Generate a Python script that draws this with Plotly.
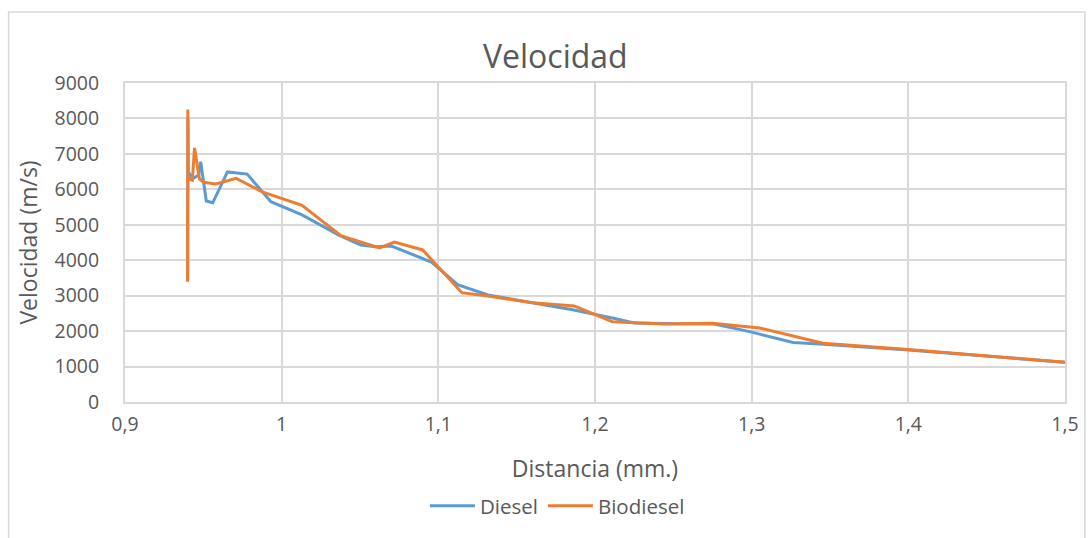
import plotly.graph_objects as go

diesel_x = [0.9400, 0.9402, 0.9404, 0.9430, 0.9470, 0.9483, 0.9519, 0.9560, 0.9654, 0.9780,
            0.9931, 1.0130, 1.0365, 1.0505, 1.0600, 1.0700, 1.0956, 1.1127, 1.1317, 1.1600,
            1.1857, 1.2111, 1.2250, 1.2500, 1.2760, 1.2987, 1.3265, 1.3460, 1.4000, 1.5000]
diesel_y = [3400, 8000, 6500, 6300, 6400, 6780, 5670, 5620, 6490, 6430,
            5650, 5280, 4710, 4430, 4380, 4400, 3950, 3300, 3020, 2800,
            2600, 2370, 2230, 2210, 2200, 1985, 1680, 1630, 1470, 1120]

bio_x = [0.9400, 0.9401, 0.9402, 0.9430, 0.9444, 0.9475, 0.9500, 0.9580, 0.9710, 0.9876,
         0.9980, 1.0130, 1.0378, 1.0625, 1.0720, 1.0900, 1.1150, 1.1317, 1.1600, 1.1867,
         1.2111, 1.2448, 1.2750, 1.3050, 1.3455, 1.4000, 1.5000]
bio_y = [3400, 8250, 6300, 6260, 7170, 6300, 6200, 6150, 6310, 5930,
         5780, 5550, 4690, 4345, 4510, 4290, 3085, 2990, 2800, 2710,
         2265, 2200, 2220, 2090, 1660, 1480, 1120]

x_ticks = [0.9, 1.0, 1.1, 1.2, 1.3, 1.4, 1.5]
x_tick_text = ["0,9", "1", "1,1", "1,2", "1,3", "1,4", "1,5"]
y_ticks = [0, 1000, 2000, 3000, 4000, 5000, 6000, 7000, 8000, 9000]

FONT = "Open Sans"
TXT = "#595959"
GRID = "#d9d9d9"

fig = go.Figure()
fig.add_trace(go.Scatter(x=diesel_x, y=diesel_y, mode="lines", name="Diesel",
                         line=dict(color="#5B9BD5", width=3)))
fig.add_trace(go.Scatter(x=bio_x, y=bio_y, mode="lines", name="Biodiesel",
                         line=dict(color="#ED7D31", width=3)))

fig.update_layout(
    width=1091, height=538,
    margin=dict(l=125, r=21, t=83, b=136),
    paper_bgcolor="white", plot_bgcolor="white",
    font=dict(family=FONT, color=TXT, size=19),
    title=dict(text="Velocidad", x=0.509, y=1 - 57 / 538, xref="container", yref="container",
               xanchor="center", yanchor="middle", font=dict(size=32, color=TXT, family=FONT)),
    showlegend=True,
    legend=dict(orientation="h", x=0.46, y=-0.326, xanchor="center", yanchor="middle",
                font=dict(size=20.5, color=TXT), itemwidth=45, bgcolor="rgba(0,0,0,0)"),
    xaxis=dict(range=[0.9, 1.5], tickvals=x_ticks, ticktext=x_tick_text,
               showgrid=True, gridcolor=GRID, gridwidth=2, zeroline=False,
               showline=True, linecolor=GRID, linewidth=2, mirror=True,
               ticks="outside", ticklen=4, tickcolor="rgba(0,0,0,0)",
               tickfont=dict(size=19.5, color=TXT),
               title=dict(text="Distancia (mm.)", font=dict(size=23, color=TXT), standoff=24)),
    yaxis=dict(range=[0, 9000], tickvals=y_ticks,
               showgrid=True, gridcolor=GRID, gridwidth=2, zeroline=False,
               showline=True, linecolor=GRID, linewidth=2, mirror=True,
               ticks="outside", ticklen=20, tickcolor="rgba(0,0,0,0)",
               tickfont=dict(size=19.5, color=TXT),
               title=dict(text="Velocidad (m/s)", font=dict(size=23, color=TXT), standoff=10)),
    shapes=[dict(type="rect", xref="paper", yref="paper",
                 x0=(8 - 125) / 945, x1=(1090 - 125) / 945,
                 y0=(402 - 545) / 319, y1=(402 - 12) / 319,
                 line=dict(color=GRID, width=1.5), layer="below")],
)

fig.write_html("out.html")
